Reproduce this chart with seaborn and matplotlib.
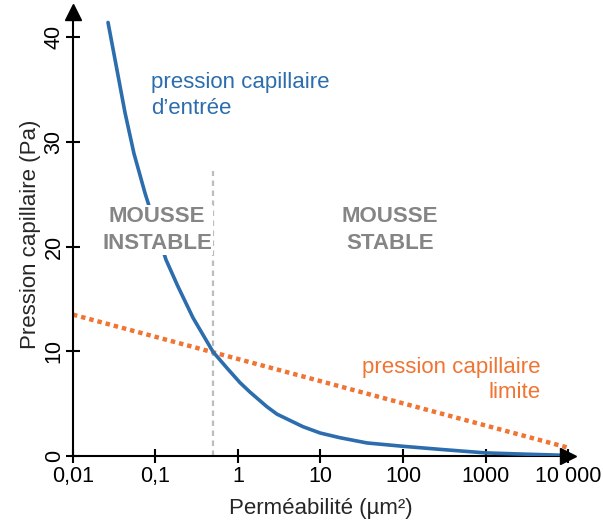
#!/usr/bin/env python3
import matplotlib

matplotlib.use("Agg")
import matplotlib.pyplot as plt
import pandas as pd
import seaborn as sns

# values
perm_entree = [0.0266, 0.0341, 0.0427, 0.0548, 0.0747, 0.134, 0.187, 0.285, 0.498,
               0.736, 1.06, 1.40, 2.25, 2.97, 6.14, 9.9, 17.2, 36.6, 100, 300,
               1000, 3000, 10000]
p_entree = [41.4, 36.9, 32.8, 28.9, 25.1, 18.75, 16.2, 13.2, 9.95,
            8.4, 7.0, 6.1, 4.7, 4.0, 2.8, 2.2, 1.75, 1.25, 0.93, 0.62,
            0.3, 0.18, 0.06]

perm_limite = [0.01, 10000]
p_limite = [13.5, 0.8]

seuil = 0.5
seuil_haut = 27.2

xticks = [0.01, 0.1, 1, 10, 100, 1000, 10000]
xtick_labels = ["0,01", "0,1", "1", "10", "100", "1000", "10 000"]
yticks = [0, 10, 20, 30, 40]

BLUE = "#2c6dad"
ORANGE = "#f07432"
GREY = "#858585"


def main() -> None:
    sns.set_style("white")
    plt.rcParams["font.family"] = ["Liberation Sans", "DejaVu Sans"]

    df_entree = pd.DataFrame({"perm": perm_entree, "p": p_entree})
    df_limite = pd.DataFrame({"perm": perm_limite, "p": p_limite})

    fig = plt.figure(figsize=(6.03, 5.2), dpi=100)
    ax = fig.add_axes([0.121, 0.123, 0.821, 0.854])

    ax.plot([seuil, seuil], [0, seuil_haut], color="#bdbdbd", lw=1.6,
            ls=(0, (2.5, 2)), zorder=1)

    sns.lineplot(data=df_limite, x="perm", y="p", ax=ax, color=ORANGE,
                 lw=3.2, ls=(0, (1.0, 0.9)), zorder=2)
    sns.lineplot(data=df_entree, x="perm", y="p", ax=ax, color=BLUE,
                 lw=2.6, zorder=3)

    ax.set_xscale("log")
    ax.set_xlim(0.01, 10000)
    ax.set_ylim(0, 42.4)

    ax.set_xticks(xticks)
    ax.set_xticklabels(xtick_labels)
    ax.minorticks_off()
    ax.set_yticks(yticks)
    ax.set_yticklabels([str(v) for v in yticks], rotation=90, va="center")

    for side in ["top", "right"]:
        ax.spines[side].set_visible(False)
    for side in ["left", "bottom"]:
        ax.spines[side].set_color("black")
        ax.spines[side].set_linewidth(1.5)

    ax.tick_params(axis="both", direction="inout", length=10, width=1.5,
                   colors="black", labelsize=15.5, bottom=True, left=True)
    ax.tick_params(axis="x", pad=2)
    ax.tick_params(axis="y", pad=1)

    # axis arrows
    ax.plot(1, 0, ">", color="black", markersize=11, transform=ax.transAxes,
            clip_on=False, zorder=5)
    ax.plot(0, 1, "^", color="black", markersize=11, transform=ax.transAxes,
            clip_on=False, zorder=5)

    ax.set_xlabel("Perméabilité (µm²)", fontsize=16, labelpad=8)
    ax.set_ylabel("Pression capillaire (Pa)", fontsize=16, labelpad=2)

    ax.text(0.088, 34.4, "pression capillaire\nd’entrée", color=BLUE,
            fontsize=16, ha="left", va="center", linespacing=1.3)
    ax.text(0.105, 21.6, "MOUSSE\nINSTABLE", color=GREY, fontsize=16,
            fontweight="bold", ha="center", va="center", linespacing=1.35,
            zorder=4, bbox=dict(facecolor="white", edgecolor="none", pad=1))
    ax.text(69, 21.6, "MOUSSE\nSTABLE", color=GREY, fontsize=16,
            fontweight="bold", ha="center", va="center", linespacing=1.35)
    ax.text(4600, 7.3, "pression capillaire\nlimite", color=ORANGE,
            fontsize=16, ha="right", va="center", linespacing=1.25)

    fig.savefig("out.png", dpi=100)
    plt.close(fig)


if __name__ == "__main__":
    main()
